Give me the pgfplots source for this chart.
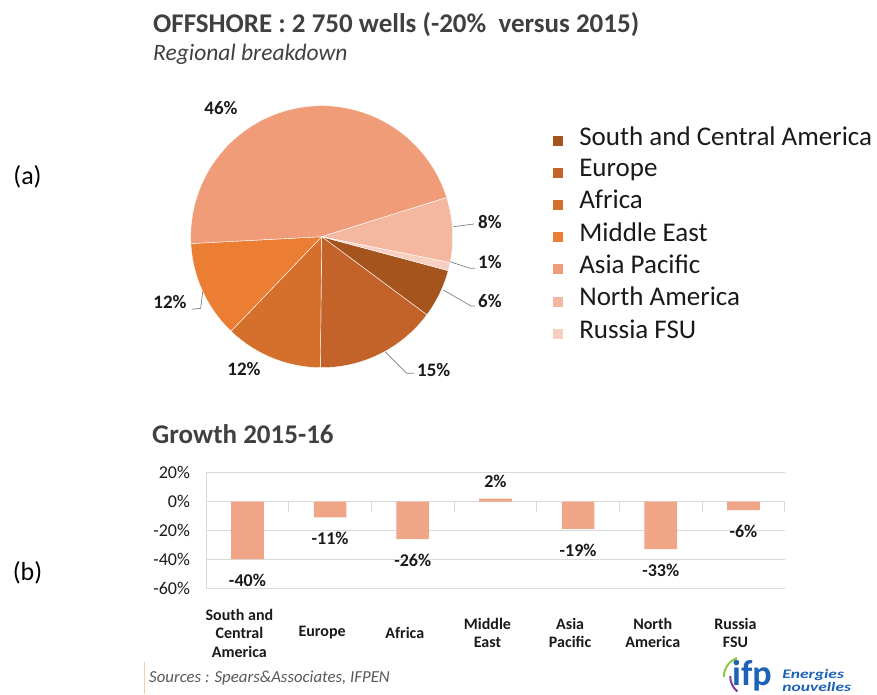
\documentclass[border=0pt]{standalone}
\usepackage{pgfplots}
\pgfplotsset{compat=1.18}
\usepackage{fontspec}
\setmainfont{Carlito}
\definecolor{cSCA}{HTML}{A5541E}
\definecolor{cEUR}{HTML}{C3632A}
\definecolor{cAFR}{HTML}{D5702C}
\definecolor{cME}{HTML}{EC7E33}
\definecolor{cAP}{HTML}{F09C78}
\definecolor{cNA}{HTML}{F4B7A0}
\definecolor{cRU}{HTML}{F8CFC0}
\definecolor{barc}{HTML}{F0A586}
\definecolor{gridgray}{HTML}{D9D9D9}
\definecolor{titlegray}{HTML}{404040}
\definecolor{txt}{HTML}{1A1A1A}
\definecolor{leader}{HTML}{7F7F7F}
\definecolor{srcgray}{HTML}{595959}
\definecolor{srcline}{HTML}{F8CBAD}
\definecolor{ifpblue}{HTML}{1C63B7}
\definecolor{ifpgreen}{HTML}{8DC63F}
\definecolor{ifppurple}{HTML}{7B3F98}

% shares (%) in legend order, clockwise from -15 deg
\pgfmathsetmacro\aA{-15}
\pgfmathsetmacro\aB{\aA-3.6*6}
\pgfmathsetmacro\aC{\aB-3.6*15}
\pgfmathsetmacro\aD{\aC-3.6*12}
\pgfmathsetmacro\aE{\aD-3.6*12}
\pgfmathsetmacro\aF{\aE-3.6*46}
\pgfmathsetmacro\aG{\aF-3.6*8}
\pgfmathsetmacro\aH{\aG-3.6*1}

\begin{document}
\begin{tikzpicture}
\useasboundingbox (0pt,0pt) rectangle (877pt,694pt);

% pie
\begin{axis}[at={(321.7pt,457.3pt)}, anchor=center, scale only axis,
  width=262pt, height=262pt, xmin=-1, xmax=1, ymin=-1, ymax=1,
  hide axis, clip=false,
  legend image code/.code={\fill[#1,draw=none] (0pt,-9.6pt) rectangle (10pt,0.4pt);},
  legend style={at={(axis description cs:1.384,0.921)}, anchor=north west,
    draw=none, fill=none, inner sep=0pt, outer sep=0pt,
    font=\fontsize{27}{29}\selectfont, text=txt,
    nodes={inner sep=0pt, outer sep=0pt},
    column sep=16pt, row sep=12.2pt},
  legend cell align=left,
]
\addplot[fill=cSCA, draw=white, line width=0.4pt, domain=\aB:\aA, samples=30] ({cos(x)},{sin(x)}) -- (axis cs:0,0) -- cycle;
\addlegendentry{South and Central America}
\addplot[fill=cEUR, draw=white, line width=0.4pt, domain=\aC:\aB, samples=40] ({cos(x)},{sin(x)}) -- (axis cs:0,0) -- cycle;
\addlegendentry{Europe}
\addplot[fill=cAFR, draw=white, line width=0.4pt, domain=\aD:\aC, samples=40] ({cos(x)},{sin(x)}) -- (axis cs:0,0) -- cycle;
\addlegendentry{Africa}
\addplot[fill=cME, draw=white, line width=0.4pt, domain=\aE:\aD, samples=40] ({cos(x)},{sin(x)}) -- (axis cs:0,0) -- cycle;
\addlegendentry{Middle East}
\addplot[fill=cAP, draw=white, line width=0.4pt, domain=\aF:\aE, samples=90] ({cos(x)},{sin(x)}) -- (axis cs:0,0) -- cycle;
\addlegendentry{Asia Pacific}
\addplot[fill=cNA, draw=white, line width=0.4pt, domain=\aG:\aF, samples=30] ({cos(x)},{sin(x)}) -- (axis cs:0,0) -- cycle;
\addlegendentry{North America}
\addplot[fill=cRU, draw=white, line width=0.4pt, domain=\aH:\aG, samples=10] ({cos(x)},{sin(x)}) -- (axis cs:0,0) -- cycle;
\addlegendentry{Russia FSU}
\end{axis}

% bar chart
\begin{axis}[at={(206.1pt,106pt)}, anchor=south west, scale only axis,
  width=578.7pt, height=115.2pt,
  xmin=-0.5, xmax=6.5, ymin=-60, ymax=20,
  ytick={-60,-40,-20,0,20},
  xtick={0,...,6},
  xticklabels={{South and\\Central\\America},Europe,Africa,{Middle\\East},{Asia\\Pacific},{North\\America},{Russia\\FSU}},
  xticklabel style={align=center, anchor=center, yshift=-45pt, xshift=-8pt,
     font=\fontsize{16}{18.5}\selectfont\bfseries, text=txt},
  yticklabel={\pgfmathprintnumber{\tick}\%},
  yticklabel style={anchor=east, inner sep=0pt, xshift=-16pt, font=\fontsize{18}{20}\selectfont, text=txt},
  /pgf/number format/assume math mode=true,
  major tick length=0pt,
  ymajorgrids, grid style={gridgray, line width=0.8pt},
  separate axis lines,
  axis x line*=bottom, axis y line*=left,
  x axis line style={draw=none},
  y axis line style={gridgray, line width=0.8pt, -},
  clip=false,
]
\addplot[ybar, bar width=32.7pt, fill=barc, draw=none,
  nodes near coords={\pgfmathprintnumber{\pgfplotspointmeta}\%},
  nodes near coords style={font=\fontsize{18}{18}\selectfont\bfseries, text=txt,
     inner xsep=0pt, inner ysep=13pt, text height=12pt, text depth=0pt, yshift=-2pt}]
coordinates {(0,-40) (1,-11) (2,-26) (3,2) (4,-19) (5,-33) (6,-6)};
\pgfplotsinvokeforeach{0.5,1.5,2.5,3.5,4.5,5.5,6.5}{
  \draw[gridgray, line width=0.8pt] (axis cs:#1,0) -- ([yshift=-10pt]axis cs:#1,0);
}
\end{axis}

\begin{scope}[x=1pt,y=1pt]
% titles
\node[anchor=base west, inner sep=0pt, text=titlegray, font=\fontsize{27}{30}\selectfont\bfseries] at (153,661) {OFFSHORE : 2 750 wells (-20\%\ \ versus 2015)};
\node[anchor=base west, inner sep=0pt, text=titlegray, font=\fontsize{23.5}{26}\selectfont\itshape] at (153,633.3) {Regional breakdown};
\node[inner sep=0pt, text=black, font=\fontsize{26}{28}\selectfont] at (27.5,517) {(a)};
\node[inner sep=0pt, text=black, font=\fontsize{26}{28}\selectfont] at (27.5,121) {(b)};
\node[anchor=base west, inner sep=0pt, text=titlegray, font=\fontsize{27}{30}\selectfont\bfseries] at (152,251) {Growth 2015-16};

% pie labels and leader lines
\begin{scope}[every node/.style={inner sep=0pt, text=txt, font=\fontsize{19}{20}\selectfont\bfseries}]
\node at (221,586) {46\%};
\node[anchor=west] at (478,472) {8\%};
\node[anchor=west] at (478,431.5) {1\%};
\node[anchor=west] at (478,393) {6\%};
\node[anchor=west] at (417,324) {15\%};
\node at (244,324.5) {12\%};
\node at (170,392) {12\%};
\end{scope}
\begin{scope}[leader, line width=0.7pt]
\draw (453.3,467.3) -- (474,470);
\draw (450,432.3) -- (470,425.7) -- (475,425.7);
\draw (443.3,404) -- (471,388) -- (475,388);
\draw (385,342.3) -- (406.7,320.7) -- (414,320.7);
\draw (202.7,402.3) -- (200.7,385.7) -- (191.7,384.7);
\end{scope}

% sources
\draw[srcline, line width=1.5pt] (144.5,0) -- (144.5,32);
\node[anchor=base west, inner sep=0pt, text=srcgray, font=\fontsize{16.8}{20}\selectfont\itshape] at (149,11.3) {Sources : Spears\&Associates, IFPEN};

% logo (approximation)
\draw[ifpgreen, line width=2pt] (737,36) arc[start angle=110, end angle=180, radius=20];
\draw[ifppurple, line width=2pt] (730.2,17.8) arc[start angle=180, end angle=230, radius=20];
\node[anchor=base west, inner sep=0pt, text=ifpblue, font=\fontsize{36}{36}\selectfont\bfseries] at (732,9) {ifp};
\node[anchor=base west, inner sep=0pt, xscale=1.35, text=ifpblue, font=\fontsize{13}{14}\selectfont\bfseries\itshape] at (782,15.5) {Energies};
\node[anchor=base west, inner sep=0pt, xscale=1.35, text=ifpblue, font=\fontsize{13}{14}\selectfont\bfseries\itshape] at (782,2.5) {nouvelles};
\end{scope}
\end{tikzpicture}
\end{document}
